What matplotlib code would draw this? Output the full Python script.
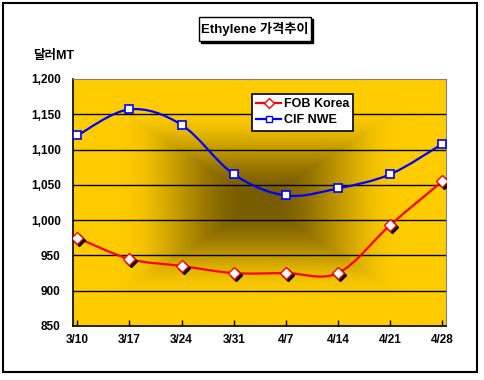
import numpy as np
import matplotlib
matplotlib.use("Agg")
import matplotlib.pyplot as plt
from matplotlib.path import Path
from matplotlib.patches import PathPatch, Rectangle
from matplotlib.lines import Line2D
from matplotlib import transforms

plt.rcParams['font.family'] = ['Liberation Sans', 'Noto Sans CJK KR']

dates = ["3/10", "3/17", "3/24", "3/31", "4/7", "4/14", "4/21", "4/28"]
fob_korea = [975, 945, 935, 925, 925, 925, 993, 1055]
cif_nwe = [1120, 1157, 1135, 1065, 1035, 1045, 1065, 1108]
series_names = ["FOB Korea", "CIF NWE"]


def smooth_path(xs, ys):
    # Catmull-Rom style bezier through the points (like Excel's smoothed line)
    pts = np.column_stack([xs, ys]).astype(float)
    n = len(pts)
    verts = [pts[0]]
    codes = [Path.MOVETO]
    for i in range(n - 1):
        p0 = pts[max(i - 1, 0)]
        p1 = pts[i]
        p2 = pts[i + 1]
        p3 = pts[min(i + 2, n - 1)]
        c1 = p1 + (p2 - p0) / 6.0
        c2 = p2 - (p3 - p1) / 6.0
        verts += [c1, c2, p2]
        codes += [Path.CURVE4] * 3
    return Path(verts, codes)


W, H = 485, 380
fig = plt.figure(figsize=(W / 100, H / 100), dpi=100)
L, R, T, B = 73.3, 446, 79, 326
ax = fig.add_axes([L / W, 1 - B / H, (R - L) / W, (B - T) / H])

x = np.arange(len(dates))
ax.set_xlim(-0.077, len(dates) - 1 + 0.071)
ax.set_ylim(850, 1200)

# rectangular "from center" gradient background
gx = np.linspace(-1, 1, 400)
gy = np.linspace(-1, 1, 300)
GX, GY = np.meshgrid(gx, gy)
t = np.clip((np.maximum(np.abs(GX), np.abs(GY)) - 0.06) / 0.7, 0, 1)
t = t * t * (3 - 2 * t)
dark = np.array([120, 92, 0]) / 255
gold = np.array([255, 204, 0]) / 255
img = dark[None, None, :] * (1 - t[..., None]) + gold[None, None, :] * t[..., None]
ax.imshow(img, extent=[*ax.get_xlim(), *ax.get_ylim()], aspect='auto',
          zorder=0, interpolation='bilinear')

yticks = np.arange(850, 1201, 50)
for yv in yticks[1:-1]:
    ax.axhline(yv, color='black', lw=1, zorder=1)

colors = ['#FF0000', '#0000FF']
for ys, c in zip([fob_korea, cif_nwe], colors):
    ax.add_patch(PathPatch(smooth_path(x, ys), fc='none', ec=c, lw=1.6,
                           zorder=3, transform=ax.transData))

shadow = transforms.offset_copy(ax.transData, fig=fig, x=2, y=-2, units='dots')
ax.plot(x, fob_korea, ls='none', marker='D', ms=6.5, mfc='black', mec='black',
        transform=shadow, zorder=4)
ax.plot(x, fob_korea, ls='none', marker='D', ms=6.5, mfc='white', mec='#FF0000',
        mew=1, zorder=5)
ax.plot(x, cif_nwe, ls='none', marker='s', ms=6, mfc='white', mec='#0000FF',
        mew=1.2, zorder=5)

ax.set_xticks(x)
ax.set_xticklabels(dates)
ax.set_yticks(yticks)
ax.set_yticklabels([f"{v:,}" for v in yticks])
ax.tick_params(axis='x', direction='in', length=4, width=1, pad=6,
               labelsize=8.5)
ax.tick_params(axis='y', length=0, pad=9, labelsize=8.5)
for lab in ax.get_xticklabels() + ax.get_yticklabels():
    lab.set_fontweight('bold')

ax.spines['left'].set_color('black')
ax.spines['bottom'].set_color('black')
ax.spines['left'].set_linewidth(1.2)
ax.spines['bottom'].set_linewidth(1.2)
ax.spines['top'].set_color('#808080')
ax.spines['right'].set_color('#808080')

handles = [
    Line2D([], [], color='#FF0000', lw=1.6, marker='D', ms=5, mfc='white', mec='#FF0000'),
    Line2D([], [], color='#0000FF', lw=1.6, marker='s', ms=4.5, mfc='white', mec='#0000FF'),
]
leg = ax.legend(handles, series_names, loc='upper left', bbox_to_anchor=(0.479, 0.939),
                borderaxespad=0, frameon=True, fancybox=False, framealpha=1,
                edgecolor='black', prop={'size': 9, 'weight': 'bold'},
                handlelength=2.0, handletextpad=0.2, labelspacing=0.3,
                borderpad=0.35)
leg.get_frame().set_linewidth(1.2)
leg.set_zorder(10)

# title box with shadow
bx0, bx1, by0, by1 = 199, 311, 17, 41
fig.patches.append(Rectangle(((bx0 + 2) / W, 1 - (by1 + 2) / H), (bx1 - bx0) / W,
                             (by1 - by0) / H, transform=fig.transFigure,
                             fc='black', ec='black', lw=1))
fig.patches.append(Rectangle((bx0 / W, 1 - by1 / H), (bx1 - bx0) / W,
                             (by1 - by0) / H, transform=fig.transFigure,
                             fc='white', ec='black', lw=1))
fig.text((bx0 + bx1) / 2 / W, 1 - (by0 + by1) / 2 / H, "Ethylene 가격추이",
         ha='center', va='center', fontsize=9.5, fontweight='bold')

fig.text(33 / W, 1 - 56 / H, "달러MT", ha='left', va='center', fontsize=9,
         fontweight='bold')

# outer chart border
fig.patches.append(Rectangle((3 / W, 1 - 372 / H), 474 / W, 369 / H,
                             transform=fig.transFigure, fc='none', ec='black', lw=1.5))

fig.savefig("out.png", dpi=100)
